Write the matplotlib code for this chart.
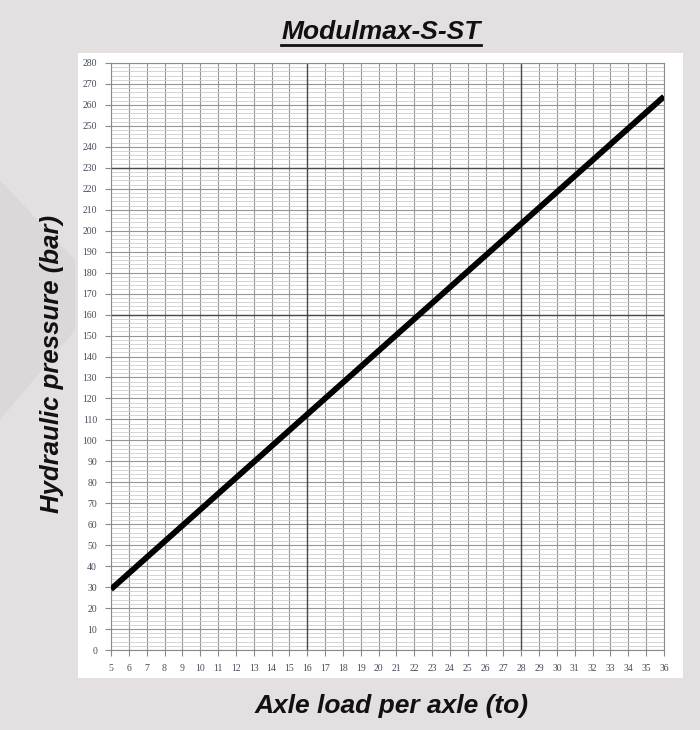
import numpy as np
import matplotlib.pyplot as plt
from matplotlib.patches import Rectangle, Polygon
from matplotlib.lines import Line2D

# data
axle_load = [5, 36]          # to
pressure = [29, 264]         # bar
x_ticks = list(range(5, 37))
y_ticks = list(range(0, 281, 10))
dark_x = [16, 28]
dark_y = [160, 230]

title = "Modulmax-S-ST"
xlabel = "Axle load per axle (to)"
ylabel = "Hydraulic pressure (bar)"

W, H = 700, 730
fig = plt.figure(figsize=(W / 100, H / 100), dpi=100)
fig.patch.set_facecolor('#e4dfe1')

# faint diagonal band on the left of the backdrop
fig.patches.append(Polygon([(0, 1 - 180 / H), (75 / W, 1 - 260 / H), (75 / W, 1 - 330 / H), (0, 1 - 420 / H)],
                           closed=True, transform=fig.transFigure, facecolor='#dcd7d9', edgecolor='none', zorder=0))
# white chart panel
fig.patches.append(Rectangle((78 / W, 1 - 678 / H), (683 - 78) / W, (678 - 53) / H,
                             transform=fig.transFigure, facecolor='white', edgecolor='none', zorder=1))

ax = fig.add_axes([111 / W, 1 - 650 / H, (664 - 111) / W, (650 - 63) / H])
ax.set_facecolor('white')
ax.set_zorder(2)

ax.set_xlim(5, 36)
ax.set_ylim(0, 280)
ax.set_xticks(x_ticks)
ax.set_yticks(y_ticks)
ax.set_yticks(np.arange(0, 281, 2), minor=True)

for s in ax.spines.values():
    s.set_color('#8a8a8a')
    s.set_linewidth(0.8)

ax.grid(which='minor', axis='y', color='#cdcdcd', linewidth=0.6)
ax.grid(which='major', axis='y', color='#959595', linewidth=0.8)
ax.grid(which='major', axis='x', color='#959595', linewidth=0.8)
for v in dark_x:
    ax.axvline(v, color='#4a4a4a', linewidth=1.0, zorder=1.5)
for v in dark_y:
    ax.axhline(v, color='#4a4a4a', linewidth=1.0, zorder=1.5)
ax.set_axisbelow(True)

ax.tick_params(which='major', direction='out', length=4, width=0.8, color='#8a8a8a',
               labelsize=7, labelcolor='#4a4a5a', pad=6)
ax.tick_params(which='minor', length=0)
for lab in ax.get_xticklabels() + ax.get_yticklabels():
    lab.set_family('Liberation Serif')

ax.plot(axle_load, pressure, color='black', linewidth=4.2, solid_capstyle='butt', zorder=3)

fig.text(381 / W, 1 - 32 / H, title, ha='center', va='center', fontsize=19,
         fontweight='bold', fontstyle='italic', family='Liberation Sans', color='#111111')
fig.text(392 / W, 1 - 706 / H, xlabel, ha='center', va='center', fontsize=19,
         fontweight='bold', fontstyle='italic', family='Liberation Sans', color='#111111')
fig.text(52 / W, 1 - 364 / H, ylabel, ha='center', va='center', rotation=90, fontsize=18.5,
         fontweight='bold', fontstyle='italic', family='Liberation Sans', color='#111111')

# underline the title
fig.canvas.draw()
t = fig.texts[0]
bb = t.get_window_extent(renderer=fig.canvas.get_renderer())
uy = (bb.y0 - 1) / H
fig.lines.append(Line2D([bb.x0 / W, bb.x1 / W], [uy, uy], transform=fig.transFigure,
                        color='#111111', linewidth=2.0))

fig.savefig('out.png', dpi=100, facecolor=fig.get_facecolor())
